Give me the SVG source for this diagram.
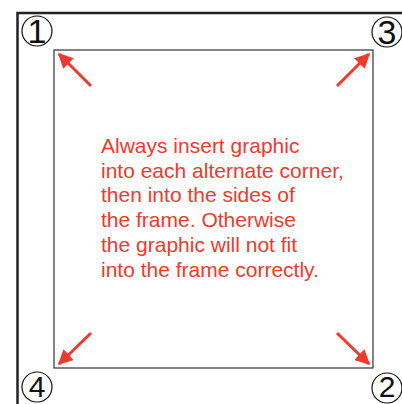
<svg xmlns="http://www.w3.org/2000/svg" width="402" height="404" viewBox="0 0 402 404">
<style>
.frame{fill:none;stroke:#222;stroke-width:2.5}
.inner{fill:none;stroke:#333;stroke-width:1.2}
.circ{fill:none;stroke:#111;stroke-width:1.2}
.num{font-family:"Liberation Sans Narrow","Liberation Sans",Arial,sans-serif;font-size:34px;fill:#111;text-anchor:middle}
.num.low{font-size:30px}
.arrow{stroke:#ee3a2e;stroke-width:3;fill:none}
.note{font-family:"Liberation Sans",Arial,sans-serif;font-size:21px;fill:#ee3a2e}
</style>
<defs>
<marker id="ah" viewBox="0 0 10 10" refX="9" refY="5" markerWidth="5" markerHeight="5" orient="auto" markerUnits="strokeWidth">
<path d="M0,0 L10,5 L0,10 z" fill="#ee3a2e"/>
</marker>
</defs>
<rect width="402" height="404" fill="#fff"/>
<g id="outer-frame">
<path class="frame" d="M17.5,404 V13 H402"/>
</g>
<g id="inner-frame">
<rect class="inner" x="54" y="50" width="319" height="318"/>
</g>
<g id="corner-1"><circle class="circ" cx="37" cy="31" r="15"/><text class="num" x="37" y="43">1</text></g>
<g id="corner-3"><circle class="circ" cx="387" cy="32" r="15"/><text class="num" x="387" y="44">3</text></g>
<g id="corner-4"><circle class="circ" cx="37" cy="387" r="15"/><text class="num low" x="37" y="397">4</text></g>
<g id="corner-2"><circle class="circ" cx="387" cy="388" r="15"/><text class="num low" x="387" y="397">2</text></g>
<g id="connectors">
<line class="arrow" x1="91" y1="86" x2="59" y2="54" marker-end="url(#ah)"/>
<line class="arrow" x1="337" y1="86" x2="369" y2="54" marker-end="url(#ah)"/>
<line class="arrow" x1="91" y1="333" x2="59" y2="364" marker-end="url(#ah)"/>
<line class="arrow" x1="337" y1="333" x2="369" y2="364" marker-end="url(#ah)"/>
</g>
<g id="note">
<text class="note" x="101" y="153">Always insert graphic</text>
<text class="note" x="101" y="178">into each alternate corner,</text>
<text class="note" x="101" y="202">then into the sides of</text>
<text class="note" x="101" y="227">the frame. Otherwise</text>
<text class="note" x="101" y="252">the graphic will not fit</text>
<text class="note" x="101" y="277">into the frame correctly.</text>
</g>
</svg>
